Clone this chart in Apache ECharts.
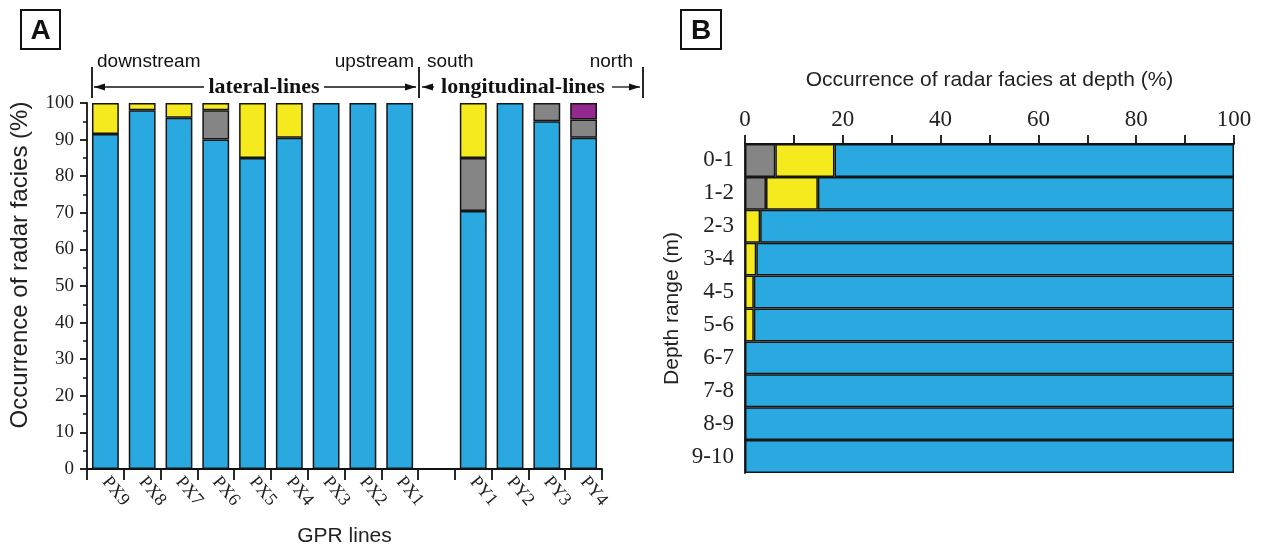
<!DOCTYPE html>
<html><head><meta charset="utf-8">
<script src="https://cdn.jsdelivr.net/npm/echarts@6/dist/echarts.min.js"></script>
<style>html,body{margin:0;padding:0;background:#fff}#c{width:1266px;height:548px}</style>
</head><body><div id="c"></div>
<script>
// Panel A data (stacked %, bottom to top)
var linesA = ['PX9','PX8','PX7','PX6','PX5','PX4','PX3','PX2','PX1','','PY1','PY2','PY3','PY4'];
var aBlue   = [91.5, 98, 96, 90, 85, 90.5, 100, 100, 100, null, 70.5, 100, 95, 90.5];
var aGray   = [null, null, null, 8, null, null, null, null, null, null, 14.5, null, 5, 5];
var aYellow = [8.5, 2, 4, 2, 15, 9.5, null, null, null, null, 15, null, null, null];
var aPurple = [null, null, null, null, null, null, null, null, null, null, null, null, null, 4.5];
var yTicksA = [0,10,20,30,40,50,60,70,80,90,100];
// Panel B data (stacked %, left to right)
var depths  = ['0-1','1-2','2-3','3-4','4-5','5-6','6-7','7-8','8-9','9-10'];
var bGray   = [6.2, 4.3, null, null, null, null, null, null, null, null];
var bYellow = [12.1, 10.6, 3.1, 2.3, 1.8, 1.8, null, null, null, null];
var bBlue   = [81.7, 85.1, 96.9, 97.7, 98.2, 98.2, 100, 100, 100, 100];
var xTicksB = [0,20,40,60,80,100];

var C_BLUE='#29A9E0', C_GRAY='#858585', C_YEL='#F5EA1E', C_PUR='#93288F';
var SERIF='"Liberation Serif","Times New Roman",serif', SANS='"Liberation Sans",Arial,sans-serif';
var border={borderColor:'#151515',borderWidth:1.5};
function bar(name,data,color,xi,yi,stack){
  return {type:'bar',name:name,data:data,stack:stack,xAxisIndex:xi,yAxisIndex:yi,
    itemStyle:Object.assign({color:color},border),barCategoryGap:xi===0?'27%':'0%',
    emphasis:{disabled:true},animation:false};
}
var chart=echarts.init(document.getElementById('c'),null,{renderer:'canvas'});
function arrow(x,y,dir){var d=dir*11;return {type:'polygon',shape:{points:[[x,y],[x-d,y-3.5],[x-d,y+3.5]]},style:{fill:'#111'}};}
function vline(x,y1,y2,w){return {type:'line',shape:{x1:x,y1:y1,x2:x,y2:y2},style:{stroke:'#111',lineWidth:w||1.8}};}
function hline(x1,x2,y){return {type:'line',shape:{x1:x1,y1:y,x2:x2,y2:y},style:{stroke:'#111',lineWidth:1.3}};}
function txt(x,y,s,font,align){return {type:'text',x:x,y:y,style:{text:s,font:font,fill:'#111',align:align||'center',verticalAlign:'middle'}};}
chart.setOption({
  animation:false,
  grid:[{left:87,top:103,width:515,height:366,outerBoundsMode:'none',containLabel:false},
        {left:745,top:144,width:489,height:329,outerBoundsMode:'none',containLabel:false}],
  xAxis:[
    {type:'category',gridIndex:0,data:linesA,
     axisLine:{lineStyle:{color:'#111',width:1.8}},
     axisTick:{show:true,interval:0,length:11,lineStyle:{color:'#111',width:1.8}},
     axisLabel:{interval:0,rotate:-50,margin:10,color:'#222',fontFamily:SERIF,fontSize:18},
     name:'GPR lines',nameLocation:'middle',nameGap:57,
     nameTextStyle:{fontFamily:SANS,fontSize:21,color:'#222'}},
    {type:'value',gridIndex:1,position:'top',min:0,max:100,interval:10,
     axisLine:{show:true,lineStyle:{color:'#111',width:1.8}},
     axisTick:{show:true,length:9,lineStyle:{color:'#111',width:1.8}},
     splitLine:{show:false},
     axisLabel:{margin:13,color:'#222',fontFamily:SERIF,fontSize:23,
       formatter:function(v){return xTicksB.indexOf(v)>=0?String(v):'';}},
     name:'Occurrence of radar facies at depth (%)',nameLocation:'middle',nameGap:53,
     nameTextStyle:{fontFamily:SANS,fontSize:21,color:'#222'}}
  ],
  yAxis:[
    {type:'value',gridIndex:0,min:0,max:100,interval:10,
     axisLine:{show:true,lineStyle:{color:'#111',width:1.8}},
     axisTick:{show:true,length:7,lineStyle:{color:'#111',width:1.8}},
     minorTick:{show:true,splitNumber:2,length:4,lineStyle:{color:'#111',width:1.5}},
     splitLine:{show:false},
     axisLabel:{margin:13,color:'#222',fontFamily:SERIF,fontSize:19,
       formatter:function(v){return yTicksA.indexOf(v)>=0?String(v):'';}}},
    {type:'category',gridIndex:1,data:depths,inverse:true,
     axisLine:{show:true,lineStyle:{color:'#111',width:1.8}},
     axisTick:{show:false},
     axisLabel:{margin:11,color:'#222',fontFamily:SERIF,fontSize:23},
     name:'Depth range (m)',nameLocation:'middle',nameGap:62,
     nameTextStyle:{fontFamily:SANS,fontSize:21,color:'#222'}}
  ],
  series:[
    bar('Blue',aBlue,C_BLUE,0,0,'a'),
    bar('Gray',aGray,C_GRAY,0,0,'a'),
    bar('Yellow',aYellow,C_YEL,0,0,'a'),
    bar('Purple',aPurple,C_PUR,0,0,'a'),
    bar('Gray B',bGray,C_GRAY,1,1,'b'),
    bar('Yellow B',bYellow,C_YEL,1,1,'b'),
    bar('Blue B',bBlue,C_BLUE,1,1,'b')
  ],
  graphic:[
    {type:'text',x:20,y:265,rotation:Math.PI/2,
     style:{text:'Occurrence of radar facies (%)',font:'24px '+SANS,fill:'#222',align:'center',verticalAlign:'middle'}},
    {type:'rect',shape:{x:21,y:10,width:39,height:39},style:{fill:'none',stroke:'#111',lineWidth:2}},
    txt(40.5,31,'A','bold 28px '+SANS),
    {type:'rect',shape:{x:681,y:10,width:40,height:39},style:{fill:'none',stroke:'#111',lineWidth:2}},
    txt(701,31,'B','bold 28px '+SANS),
    vline(92,67,98), vline(419,67,98), vline(643,67,98),
    txt(97,62,'downstream','19px '+SANS,'left'),
    txt(414,62,'upstream','19px '+SANS,'right'),
    txt(427,62,'south','19px '+SANS,'left'),
    txt(633,62,'north','19px '+SANS,'right'),
    hline(94,204,87), hline(324,416,87), arrow(94,87,-1), arrow(416,87,1),
    txt(264,87,'lateral-lines','bold 22px '+SERIF),
    hline(422,434,87), hline(612,640,87), arrow(422,87,-1), arrow(640,87,1),
    txt(523,87,'longitudinal-lines','bold 22px '+SERIF)
  ]
});
</script></body></html>
